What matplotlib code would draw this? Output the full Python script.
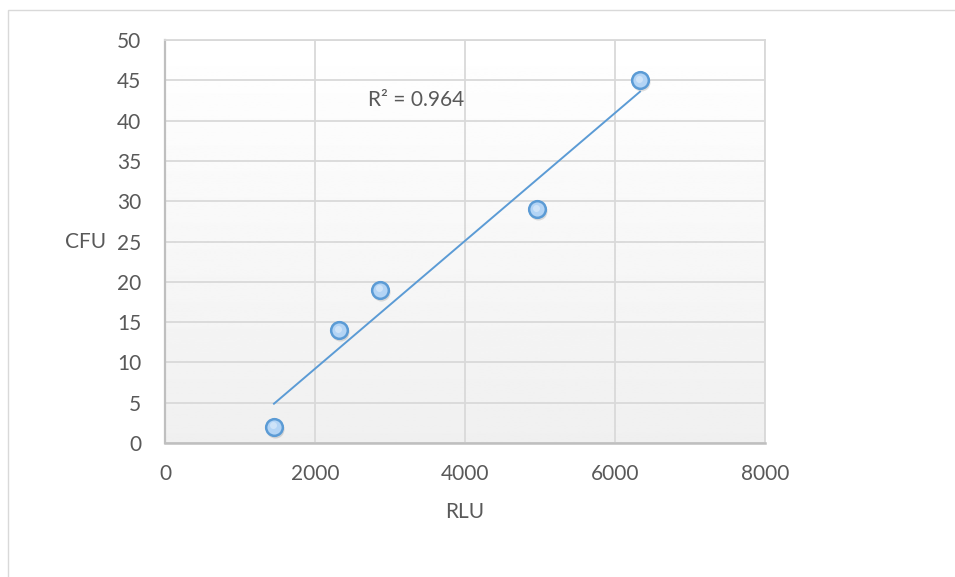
import matplotlib.pyplot as plt
import matplotlib.transforms as mtransforms
import numpy as np
from matplotlib.patches import Rectangle

rlu = [1453, 2320, 2867, 4960, 6333]
cfu = [2, 14, 19, 29, 45]
x_ticks = [0, 2000, 4000, 6000, 8000]
y_ticks = list(range(0, 51, 5))
r2_label = 'R² = 0.964'

text_col = '#595959'
blue = '#5b9bd5'

plt.rcParams['font.family'] = ['Lato', 'DejaVu Sans']

fig = plt.figure(figsize=(9.55, 5.77), dpi=100)
# outer chart border
fig.patches.append(Rectangle((8 / 955, -0.01), 1.0, 1 - 10 / 577 + 0.01,
                             transform=fig.transFigure, fill=False,
                             edgecolor='#d9d9d9', linewidth=1))

ax = fig.add_axes([165 / 955, 134 / 577, 600 / 955, 403 / 577])
ax.set_xlim(0, 8000)
ax.set_ylim(0, 50)

# plot area gradient, white at top to light grey at bottom
grad = np.linspace(1.0, 0.94, 256).reshape(-1, 1)
ax.imshow(grad, cmap='gray', vmin=0, vmax=1, aspect='auto',
          extent=[0, 1, 0, 1], transform=ax.transAxes, origin='upper', zorder=0)

ax.set_xticks(x_ticks)
ax.set_yticks(y_ticks)
ax.grid(True, color='#d9d9d9', linewidth=1.3, zorder=1)
ax.set_axisbelow(True)
for s in ['left', 'bottom', 'right', 'top']:
    ax.spines[s].set_color('#d9d9d9')
    ax.spines[s].set_linewidth(1.3)
ax.spines['left'].set_color('#bfbfbf')
ax.spines['bottom'].set_color('#bfbfbf')
ax.spines['left'].set_linewidth(1.6)
ax.spines['bottom'].set_linewidth(1.8)
ax.tick_params(length=0, labelsize=15, colors=text_col)
ax.tick_params(axis='x', pad=15)
ax.tick_params(axis='y', pad=17)

# linear trendline
k, b = np.polyfit(rlu, cfu, 1)
xs = np.array([min(rlu), max(rlu)])
ax.plot(xs, k * xs + b, color=blue, linewidth=1.4, zorder=3)

# markers with a soft shadow
shadow = mtransforms.ScaledTranslation(1 / 100, -2 / 100, fig.dpi_scale_trans)
ax.plot(rlu, cfu, 'o', markersize=13, color='#000000', alpha=0.12,
        markeredgewidth=0, transform=ax.transData + shadow, zorder=4)
ax.plot(rlu, cfu, 'o', markersize=12, markerfacecolor='#b3d4f5',
        markeredgecolor=blue, markeredgewidth=1.8, zorder=5)
shine = mtransforms.ScaledTranslation(-1 / 100, 1.5 / 100, fig.dpi_scale_trans)
ax.plot(rlu, cfu, 'o', markersize=5, markerfacecolor='#d6e8fa',
        markeredgewidth=0, alpha=0.8, zorder=6, transform=ax.transData + shine)

ax.text(2707, 42.5, r2_label, fontsize=15, color=text_col, va='center', ha='left')

fig.text(86 / 955, 1 - 242 / 577, 'CFU', fontsize=15, color=text_col, ha='center', va='center')
fig.text(465 / 955, 1 - 512 / 577, 'RLU', fontsize=15, color=text_col, ha='center', va='center')

fig.savefig('out.png', dpi=100)
